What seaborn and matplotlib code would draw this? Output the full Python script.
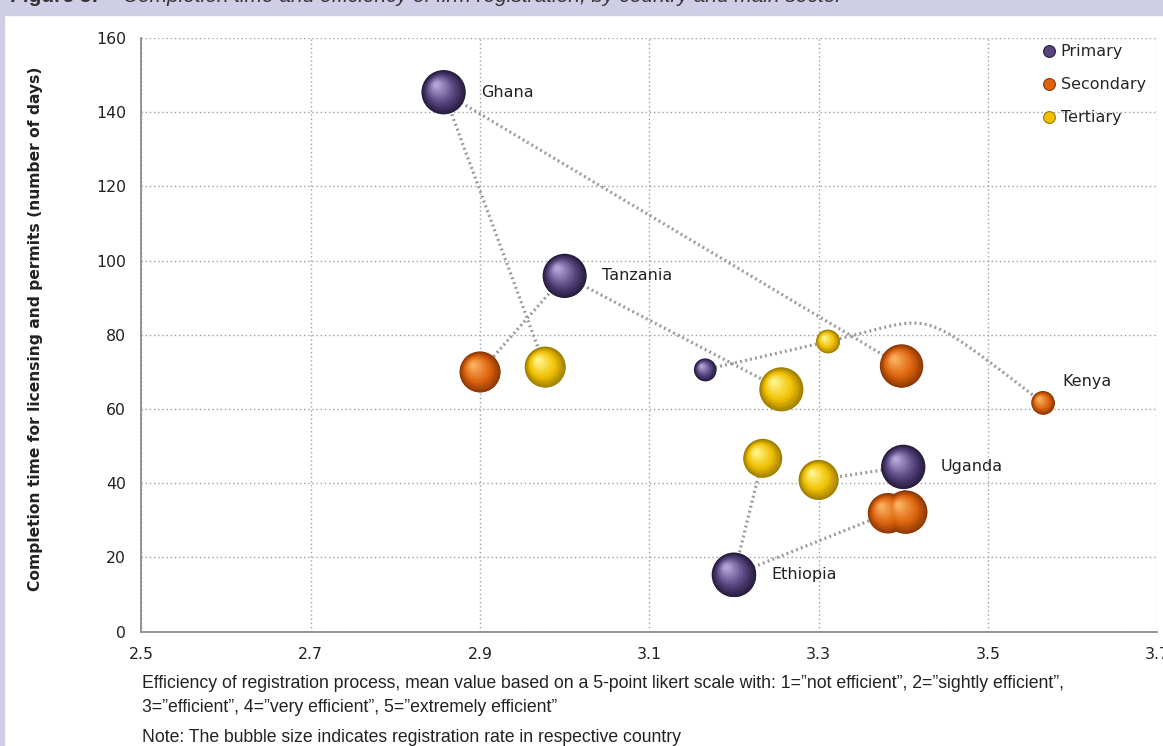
import numpy as np
import pandas as pd
import matplotlib
matplotlib.use("Agg")
import matplotlib.pyplot as plt
import matplotlib.transforms as mtransforms
from matplotlib.colors import to_rgb
from matplotlib.lines import Line2D
from matplotlib.patches import Rectangle
import seaborn as sns

# ---- data ----
countries = ["Ethiopia", "Ghana", "Kenya", "Tanzania", "Uganda"]
sectors = ["Primary", "Secondary", "Tertiary"]

# efficiency of registration (x)
eff_primary = [3.200, 2.857, 3.166, 3.000, 3.400]
eff_secondary = [3.382, 3.398, 3.565, 2.900, 3.403]
eff_tertiary = [3.234, 2.977, 3.311, 3.256, 3.300]

# completion time in days (y)
days_primary = [15.3, 145.4, 70.6, 95.9, 44.4]
days_secondary = [31.9, 71.6, 61.7, 70.0, 32.2]
days_tertiary = [46.7, 71.3, 78.2, 65.3, 40.9]

# registration rate (bubble size)
reg_primary = [98, 97, 25, 96, 97]
reg_secondary = [81, 93, 27, 83, 93]
reg_tertiary = [75, 83, 28, 96, 79]

# which bubble carries the country name
label_sector = ["Primary", "Primary", "Secondary", "Primary", "Primary"]

# order the dotted connector passes through the sectors
line_order = {
    "Ethiopia": ["Secondary", "Primary", "Tertiary"],
    "Ghana": ["Secondary", "Primary", "Tertiary"],
    "Kenya": ["Primary", "Tertiary", "Secondary"],
    "Tanzania": ["Secondary", "Primary", "Tertiary"],
    "Uganda": ["Secondary", "Primary", "Tertiary"],
}
smooth_lines = ["Kenya"]

x_ticks = [2.5, 2.7, 2.9, 3.1, 3.3, 3.5, 3.7]
x_tick_labels = ["2.5", "2.7", "2.9", "3.1", "3.3", "3.5", "3.7"]
y_ticks = [0, 20, 40, 60, 80, 100, 120, 140, 160]

# sphere colours: rim / body / highlight
sphere_cols = {
    "Primary": ("#251a3c", "#56457f", "#b3a5d8"),
    "Secondary": ("#8a3604", "#dd640e", "#f9b060"),
    "Tertiary": ("#9c7c00", "#f0c000", "#fff48a"),
}
SIZE_SCALE = 10.5

df = pd.DataFrame({
    "country": countries * 3,
    "sector": [s for s in sectors for _ in countries],
    "eff": eff_primary + eff_secondary + eff_tertiary,
    "days": days_primary + days_secondary + days_tertiary,
    "reg": reg_primary + reg_secondary + reg_tertiary,
})


def mix(c1, c2, t):
    a = np.array(to_rgb(c1))
    b = np.array(to_rgb(c2))
    return tuple(a + (b - a) * t)


def draw_sphere(ax, x, y, s, rim, body, light, n=28):
    r_pt = np.sqrt(s) / 2
    for k in range(1, n):
        f = k / (n - 1)
        size = s * (1 - 0.9 * f) ** 2
        shift = 0.36 * r_pt * f
        tr = mtransforms.offset_copy(ax.transData, fig=ax.figure,
                                     x=-shift, y=shift, units="points")
        if f < 0.4:
            col = mix(rim, body, f / 0.4)
        else:
            col = mix(body, light, (f - 0.4) / 0.6)
        ax.scatter([x], [y], s=size, color=col, transform=tr,
                   linewidths=0, zorder=3 + f)


def hermite(p0, p1, t0, t1, num=60):
    t = np.linspace(0, 1, num)[:, None]
    h00 = 2 * t**3 - 3 * t**2 + 1
    h10 = t**3 - 2 * t**2 + t
    h01 = -2 * t**3 + 3 * t**2
    h11 = t**3 - t**2
    return h00 * p0 + h10 * t0 + h01 * p1 + h11 * t1


sns.set_theme(style="white")
plt.rcParams["font.family"] = ["DejaVu Sans"]

fig = plt.figure(figsize=(11.63, 7.46), dpi=100)
ax = fig.add_axes([0.1216, 0.1534, 0.8734, 0.7956])

# frame decoration: lavender header strip and left border
fig.patches.append(Rectangle((0, 1 - 15 / 746), 1, 15 / 746, transform=fig.transFigure,
                             color="#d0cde6", zorder=0))
fig.patches.append(Rectangle((0, 0), 4 / 1163, 1, transform=fig.transFigure,
                             color="#d0cde6", zorder=0))
# title sits above the crop, only its descenders show
fig.text(10 / 1163, 1 - 2 / 746, "Figure 5:", fontsize=15, fontweight="bold",
         family=["Liberation Sans", "DejaVu Sans"], color="#333333", va="baseline")
fig.text(123 / 1163, 1 - 2 / 746,
         "Completion time and efficiency of firm registration, by country and main sector",
         fontsize=15, style="italic", family=["Liberation Sans", "DejaVu Sans"],
         color="#333333", va="baseline")

# dotted connectors per country
for c in countries:
    sub = df[df.country == c].set_index("sector").loc[line_order[c]]
    pts = sub[["eff", "days"]].to_numpy()
    if c in smooth_lines:
        p0, p1, p2 = pts
        seg = hermite(p1, p2, 2.7 * (p1 - p0), 3.56 * (p2 - p1) - 3.0 * (p1 - p0))
        xs = np.concatenate([[p0[0]], seg[:, 0]])
        ys = np.concatenate([[p0[1]], seg[:, 1]])
    else:
        xs, ys = pts[:, 0], pts[:, 1]
    ax.plot(xs, ys, color="#9a9a9a", lw=2.3, linestyle=(0, (0.6, 1.0)),
            dash_capstyle="butt", zorder=2)

# base (rim) layer through seaborn
sns.scatterplot(data=df, x="eff", y="days", hue="sector", size="reg",
                palette={k: v[0] for k, v in sphere_cols.items()},
                sizes=(0, 100 * SIZE_SCALE), size_norm=(0, 100),
                linewidth=0, legend=False, ax=ax, zorder=3)

# shading layers
for _, row in df.iterrows():
    rim, body, light = sphere_cols[row.sector]
    draw_sphere(ax, row.eff, row.days, row.reg * SIZE_SCALE, rim, body, light)

# country names
for c, sec in zip(countries, label_sector):
    row = df[(df.country == c) & (df.sector == sec)].iloc[0]
    off = (14, 15) if c == "Kenya" else (27, 0)
    ax.annotate(c, (row.eff, row.days), xytext=off, textcoords="offset points",
                fontsize=11.5, color="#222222", va="center", ha="left", zorder=6)

ax.set_xlim(2.5, 3.7)
ax.set_ylim(0, 160)
ax.set_xticks(x_ticks)
ax.set_xticklabels(x_tick_labels)
ax.set_yticks(y_ticks)
ax.tick_params(axis="both", labelsize=11.3, colors="#222222", length=5,
               color="#8c8c8c", width=1, pad=6)
ax.grid(True, color="#a0a0a0", linestyle=(0, (1, 2)), lw=1)
ax.set_axisbelow(True)
for side in ["top", "right"]:
    ax.spines[side].set_visible(False)
for side in ["left", "bottom"]:
    ax.spines[side].set_color("#8c8c8c")
    ax.spines[side].set_linewidth(1.3)

ax.set_xlabel("")
ax.set_ylabel("Completion time for licensing and permits (number of days)",
              fontsize=11.15, fontweight="bold", color="#222222")
ax.yaxis.set_label_coords(-0.0965, 0.51)

handles = [Line2D([], [], marker="o", ls="", markersize=8.5,
                  markerfacecolor=sphere_cols[s][1], markeredgecolor=sphere_cols[s][0],
                  markeredgewidth=0.8) for s in sectors]
ax.legend(handles, sectors, loc="upper left", bbox_to_anchor=(1036 / 1163, 1 - 38 / 746),
          bbox_transform=fig.transFigure, frameon=False, fontsize=11.5,
          handlelength=0.8, handletextpad=0.35, labelspacing=1.12, borderaxespad=0)

cap_font = ["Liberation Sans", "DejaVu Sans"]
fig.text(142 / 1163, 1 - 683 / 746,
         "Efficiency of registration process, mean value based on a 5-point likert scale with: "
         "1=\u201dnot efficient\u201d, 2=\u201dsightly efficient\u201d,",
         fontsize=12.7, family=cap_font, color="#222222", va="center")
fig.text(142 / 1163, 1 - 707 / 746,
         "3=\u201defficient\u201d, 4=\u201dvery efficient\u201d, 5=\u201dextremely efficient\u201d",
         fontsize=12.7, family=cap_font, color="#222222", va="center")
fig.text(142 / 1163, 1 - 737 / 746,
         "Note: The bubble size indicates registration rate in respective country",
         fontsize=12.7, family=cap_font, color="#222222", va="center")

fig.savefig("out.png", dpi=100)
